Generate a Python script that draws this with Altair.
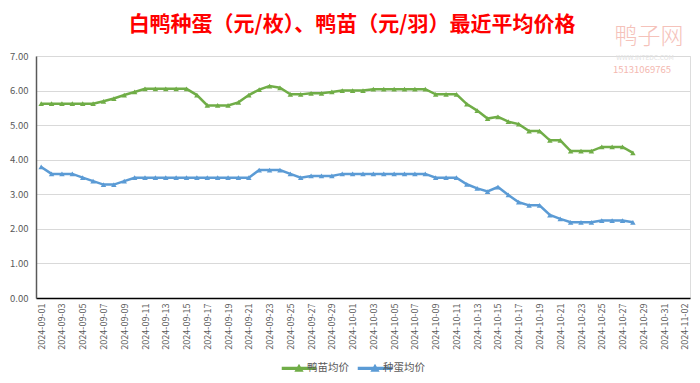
import altair as alt
import pandas as pd

# categories (daily axis 2024-09-01 .. 2024-11-02)
all_dates = [d.strftime("%Y-%m-%d") for d in pd.date_range("2024-09-01", "2024-11-02")]
label_dates = all_dates[::2]
data_dates = all_dates[:58]

series_names = ["鸭苗均价", "种蛋均价"]
series_colors = ["#70AD47", "#5B9BD5"]

duckling = [
    5.62, 5.62, 5.62, 5.62, 5.62, 5.62, 5.69, 5.77, 5.87, 5.96,
    6.05, 6.05, 6.05, 6.05, 6.05, 5.87, 5.57, 5.57, 5.57, 5.66,
    5.87, 6.03, 6.13, 6.08, 5.89, 5.89, 5.92, 5.92, 5.96, 6.00,
    6.00, 6.00, 6.04, 6.04, 6.04, 6.04, 6.04, 6.04, 5.89, 5.89,
    5.89, 5.61, 5.42, 5.19, 5.24, 5.10, 5.03, 4.83, 4.83, 4.56,
    4.56, 4.25, 4.25, 4.25, 4.37, 4.37, 4.37, 4.20,
]
egg = [
    3.79, 3.59, 3.59, 3.59, 3.48, 3.38, 3.28, 3.28, 3.38, 3.48,
    3.48, 3.48, 3.48, 3.48, 3.48, 3.48, 3.48, 3.48, 3.48, 3.48,
    3.48, 3.70, 3.70, 3.70, 3.59, 3.48, 3.53, 3.53, 3.53, 3.59,
    3.59, 3.59, 3.59, 3.59, 3.59, 3.59, 3.59, 3.59, 3.48, 3.48,
    3.48, 3.29, 3.17, 3.08, 3.21, 2.98, 2.77, 2.68, 2.68, 2.40,
    2.29, 2.19, 2.19, 2.19, 2.24, 2.24, 2.24, 2.19,
]
y_ticks = [0, 1, 2, 3, 4, 5, 6, 7]

title_text = "白鸭种蛋（元/枚）、鸭苗（元/羽）最近平均价格"
FONT = "Noto Sans CJK SC"

df = pd.DataFrame({
    "date": data_dates * 2,
    "price": duckling + egg,
    "series": [series_names[0]] * len(duckling) + [series_names[1]] * len(egg),
})

x_enc = alt.X(
    "date:N",
    sort=all_dates,
    scale=alt.Scale(type="point", domain=all_dates, padding=0.5),
    axis=alt.Axis(
        values=label_dates, labelAngle=-90, title=None, ticks=False,
        domainColor="#000000", domainWidth=1.5, labelColor="#595959",
        labelFontSize=9, labelPadding=5, grid=False, labelFont=FONT,
    ),
)
y_enc = alt.Y(
    "price:Q",
    scale=alt.Scale(domain=[0, 7], nice=False),
    axis=alt.Axis(
        values=y_ticks, format=".2f", title=None, ticks=False,
        grid=True, gridColor="#D9D9D9", gridWidth=1,
        domainColor="#595959", domainWidth=1.5,
        labelColor="#595959", labelFontSize=9.5, labelPadding=8, labelFont=FONT,
    ),
)
color_enc = alt.Color(
    "series:N",
    sort=series_names,
    scale=alt.Scale(domain=series_names, range=series_colors),
    legend=alt.Legend(
        title=None, orient="none", legendX=256, legendY=305,
        direction="horizontal", labelFontSize=10.5, labelColor="#595959",
        labelFont=FONT, columnPadding=5, symbolSize=135, symbolStrokeWidth=2,
        symbolType="M-2.8,-0.12L2.8,-0.12L2.8,0.12L-2.8,0.12Z M-0.5,0.4L0,-0.45L0.5,0.4Z",
        labelOffset=1,
    ),
)

base = alt.Chart(df).encode(x=x_enc, y=y_enc, color=color_enc)
lines = base.mark_line(strokeWidth=2.5)
points = base.mark_point(shape="triangle-up", filled=True, size=30, opacity=1)

wm = pd.DataFrame({"t": ["鸭子网"]})
wm2 = pd.DataFrame({"t": ["WWW.INTEDC.COM"]})
wm3 = pd.DataFrame({"t": ["15131069765"]})
mark1 = alt.Chart(wm).mark_text(fontSize=23, color="#F5C2BA", font=FONT, fontWeight=300).encode(
    text="t:N", x=alt.value(613), y=alt.value(-19))
mark2 = alt.Chart(wm2).mark_text(fontSize=6.5, color="#E2E2E2", font=FONT).encode(
    text="t:N", x=alt.value(609), y=alt.value(2))
mark3 = alt.Chart(wm3).mark_text(fontSize=9.5, color="#F4B8B0", font=FONT).encode(
    text="t:N", x=alt.value(606), y=alt.value(14))

chart = alt.layer(lines, points, mark1, mark2, mark3).properties(
    width=654,
    height=242,
    padding={"left": 28, "top": 48, "right": 2, "bottom": 77},
    autosize=alt.AutoSizeParams(type="none"),
    title=alt.TitleParams(
        title_text, color="#FF0000", fontSize=21, fontWeight="bold",
        font=FONT, anchor="middle", dx=-11, dy=21, offset=12,
    ),
).configure_view(stroke=None).configure(background="white")

chart.save("out.html", embed_options={"renderer": "svg", "actions": False})
